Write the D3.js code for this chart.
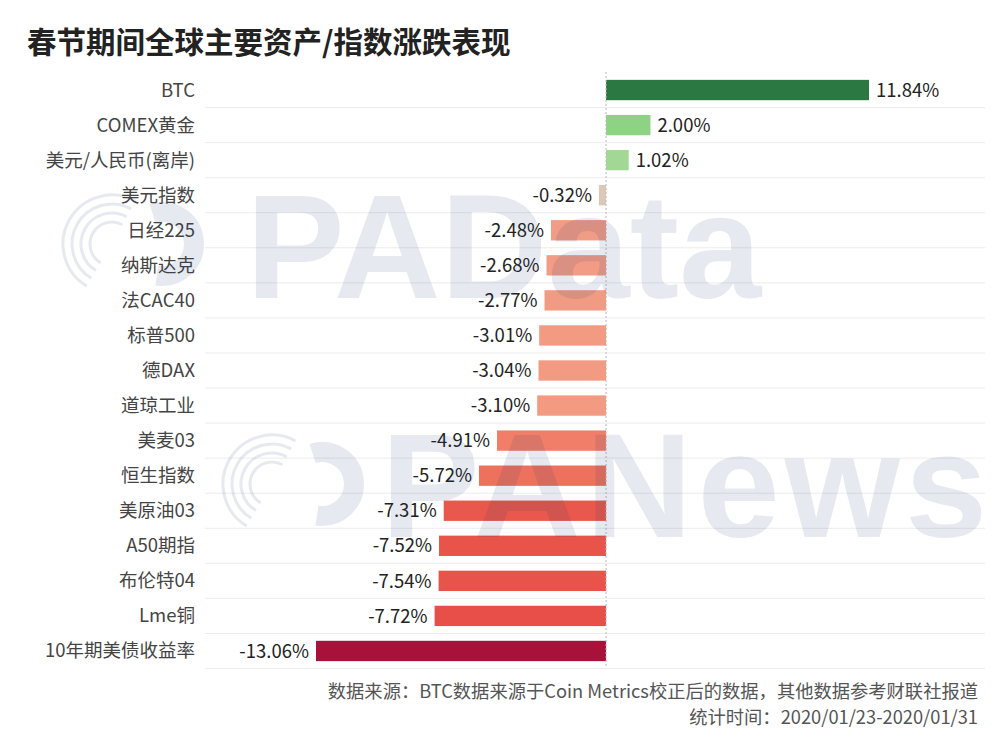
<!DOCTYPE html>
<html>
<head>
<meta charset="utf-8">
<script src="https://cdn.jsdelivr.net/npm/d3@7"></script>
<style>
  body { margin: 0; background: #fff; }
  text { font-family: "Noto Sans CJK SC", "Noto Sans", sans-serif; }
  text.wm { font-family: "Liberation Sans", Arial, sans-serif; font-weight: bold; }
</style>
</head>
<body>
<svg id="chart" width="1000" height="737"></svg>
<script>
// data
const assets = ["BTC", "COMEX黄金", "美元/人民币(离岸)", "美元指数", "日经225", "纳斯达克", "法CAC40",
  "标普500", "德DAX", "道琼工业", "美麦03", "恒生指数", "美原油03", "A50期指", "布伦特04", "Lme铜", "10年期美债收益率"];
const changes = [11.84, 2.00, 1.02, -0.32, -2.48, -2.68, -2.77, -3.01, -3.04, -3.10, -4.91, -5.72, -7.31, -7.52, -7.54, -7.72, -13.06];

const svg = d3.select("#chart");

// title
svg.append("text")
  .attr("x", 27).attr("y", 53)
  .attr("font-size", 29.5).attr("font-weight", "bold").attr("fill", "#222")
  .text("春节期间全球主要资产/指数涨跌表现");

const x = d3.scaleLinear().domain([-13.06, 11.84]).range([316, 869]);
const y = d3.scaleBand().domain(assets).range([72.5, 668.5]).paddingInner(0.42).paddingOuter(0.21);

const posColor = d3.scaleLinear().domain([0, 2, 11.84]).range(["#b8dca8", "#8ed383", "#2c7843"]);
const negColor = d3.scaleLinear().domain([0, -0.32, -2.5, -3.1, -4.9, -7.3, -7.72, -13.06])
  .range(["#e0cfc0", "#dcc8b6", "#f19c86", "#f39a82", "#f17e68", "#e9584c", "#e84f48", "#a7113a"]);

const fmt = d => d.toFixed(2) + "%";

// row separators
const gridG = svg.append("g");
d3.range(1, assets.length + 1).forEach(i => {
  const yy = 72.5 + i * (596 / assets.length);
  gridG.append("line")
    .attr("x1", 205).attr("x2", 985)
    .attr("y1", yy).attr("y2", yy)
    .attr("stroke", "#ececec").attr("stroke-width", 1);
});

// bars
svg.append("g").selectAll("rect")
  .data(changes)
  .enter()
  .append("rect")
  .attr("x", d => x(Math.min(0, d)))
  .attr("y", (d, i) => y(assets[i]))
  .attr("width", d => Math.abs(x(d) - x(0)))
  .attr("height", y.bandwidth())
  .attr("fill", d => d >= 0 ? posColor(d) : negColor(d));

// zero line
svg.append("line")
  .attr("x1", x(0)).attr("x2", x(0))
  .attr("y1", 72).attr("y2", 668)
  .attr("stroke", "#bbb").attr("stroke-width", 1)
  .attr("stroke-dasharray", "2,2");

// category labels
svg.append("g").selectAll("text")
  .data(assets)
  .enter()
  .append("text")
  .attr("x", 195)
  .attr("y", d => y(d) + y.bandwidth() / 2)
  .attr("dy", "0.35em")
  .attr("text-anchor", "end")
  .attr("font-size", 18.5).attr("fill", "#444")
  .text(d => d);

// value labels
svg.append("g").selectAll("text")
  .data(changes)
  .enter()
  .append("text")
  .attr("x", d => d >= 0 ? x(d) + 7 : x(d) - 7)
  .attr("y", (d, i) => y(assets[i]) + y.bandwidth() / 2)
  .attr("dy", "0.36em")
  .attr("text-anchor", d => d >= 0 ? "start" : "end")
  .attr("font-size", 18.5).attr("fill", "#222")
  .text(fmt);

// watermarks, translucent over the chart
const wm = svg.append("g").attr("fill", "#1e3c6e").attr("opacity", 0.11);
wm.append("text").attr("class", "wm").attr("x", 246).attr("y", 298).attr("font-size", 148).text("PAData");
wm.append("text").attr("class", "wm").attr("x", 381).attr("y", 537).attr("font-size", 148)
  .attr("letter-spacing", 5).text("PANews");

// logos: rings + thick arc
[[112, 244], [272, 484]].forEach(([cx, cy]) => {
  const lg = wm.append("g").attr("transform", `translate(${cx},${cy})`).attr("fill", "none").attr("stroke", "#1e3c6e");
  [22, 31, 40, 49].forEach(r => {
    lg.append("path")
      .attr("d", d3.arc()({ innerRadius: r, outerRadius: r, startAngle: -2.6, endAngle: 0.5 }))
      .attr("stroke-width", 3);
  });
  lg.append("path")
    .attr("transform", "translate(50,0)")
    .attr("d", d3.arc()({ innerRadius: 32, outerRadius: 32, startAngle: -0.3, endAngle: 3.3 }))
    .attr("stroke-width", 20);
});

// footer
svg.append("text")
  .attr("x", 978).attr("y", 698)
  .attr("text-anchor", "end").attr("font-size", 18.3).attr("fill", "#555")
  .text("数据来源：BTC数据来源于Coin Metrics校正后的数据，其他数据参考财联社报道");
svg.append("text")
  .attr("x", 978).attr("y", 724)
  .attr("text-anchor", "end").attr("font-size", 18.3).attr("fill", "#555")
  .text("统计时间：2020/01/23-2020/01/31");
</script>
</body>
</html>
